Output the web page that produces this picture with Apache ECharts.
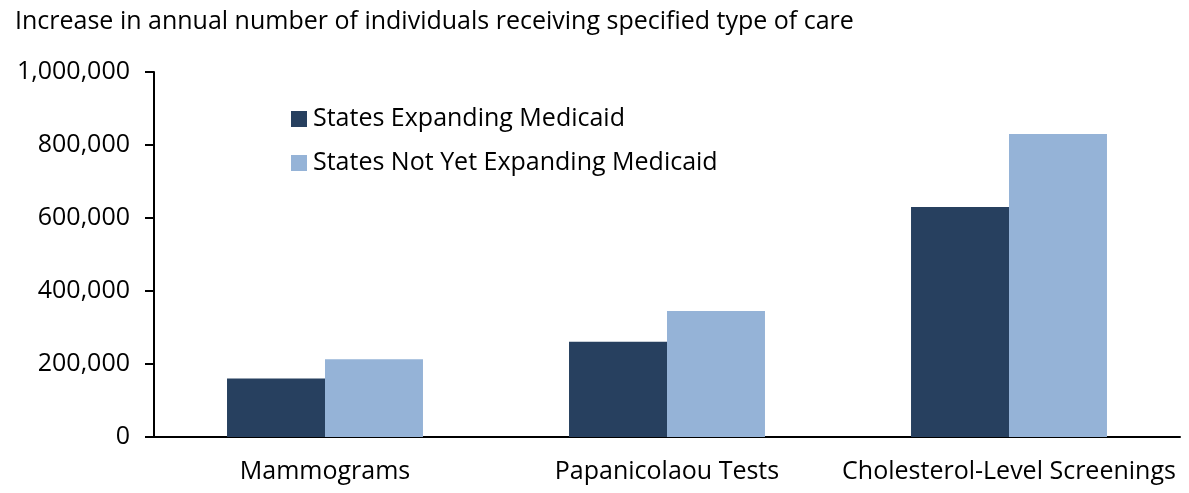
<!DOCTYPE html>
<html>
<head>
<meta charset="utf-8">
<script src="https://cdn.jsdelivr.net/npm/echarts@6/dist/echarts.min.js"></script>
<style>
  html, body { margin: 0; padding: 0; background: #fff; }
  #main { width: 1189px; height: 493px; }
</style>
</head>
<body>
<div id="main"></div>
<script>
// data
const categories = ['Mammograms', 'Papanicolaou Tests', 'Cholesterol-Level Screenings'];
const expanding = [160000, 261000, 630000];
const notYet = [213000, 345000, 830000];
const seriesNames = ['States Expanding Medicaid', 'States Not Yet Expanding Medicaid'];

const font = '"Open Sans", "Noto Sans", sans-serif';

const myChart = echarts.init(document.getElementById('main'));

let option = {
  animation: false,
  title: {
    text: 'Increase in annual number of individuals receiving specified type of care',
    left: 10,
    top: 4,
    textStyle: { fontFamily: font, fontSize: 25, fontWeight: 'normal', color: '#000' }
  },
  legend: {
    orient: 'vertical',
    left: 286,
    top: 101,
    itemWidth: 16,
    itemHeight: 16,
    itemGap: 18,
    icon: 'rect',
    textStyle: { fontFamily: font, fontSize: 25, lineHeight: 26, color: '#000', padding: [0, 0, 0, 1] },
    data: seriesNames
  },
  grid: { left: 154, right: 9, top: 72, bottom: 56 },
  xAxis: {
    type: 'category',
    data: categories,
    axisLine: { lineStyle: { color: '#000', width: 2 } },
    axisTick: { show: false },
    axisLabel: { fontFamily: font, fontSize: 25, color: '#000', margin: 22, interval: 0 }
  },
  yAxis: {
    type: 'value',
    min: 0,
    max: 1000000,
    interval: 200000,
    splitLine: { show: false },
    axisLine: { show: true, lineStyle: { color: '#000', width: 2 } },
    axisTick: { show: true, length: 9, lineStyle: { color: '#000', width: 2 } },
    axisLabel: {
      fontFamily: font, fontSize: 25, color: '#000', margin: 24,
      formatter: v => v.toLocaleString('en-US')
    }
  },
  series: [
    {
      name: seriesNames[0],
      type: 'bar',
      data: expanding,
      barGap: '0%',
      barCategoryGap: '42.7%',
      itemStyle: { color: '#27405F' }
    },
    {
      name: seriesNames[1],
      type: 'bar',
      data: notYet,
      itemStyle: { color: '#95B3D7' }
    }
  ]
};
myChart.setOption(option);
</script>
</body>
</html>
